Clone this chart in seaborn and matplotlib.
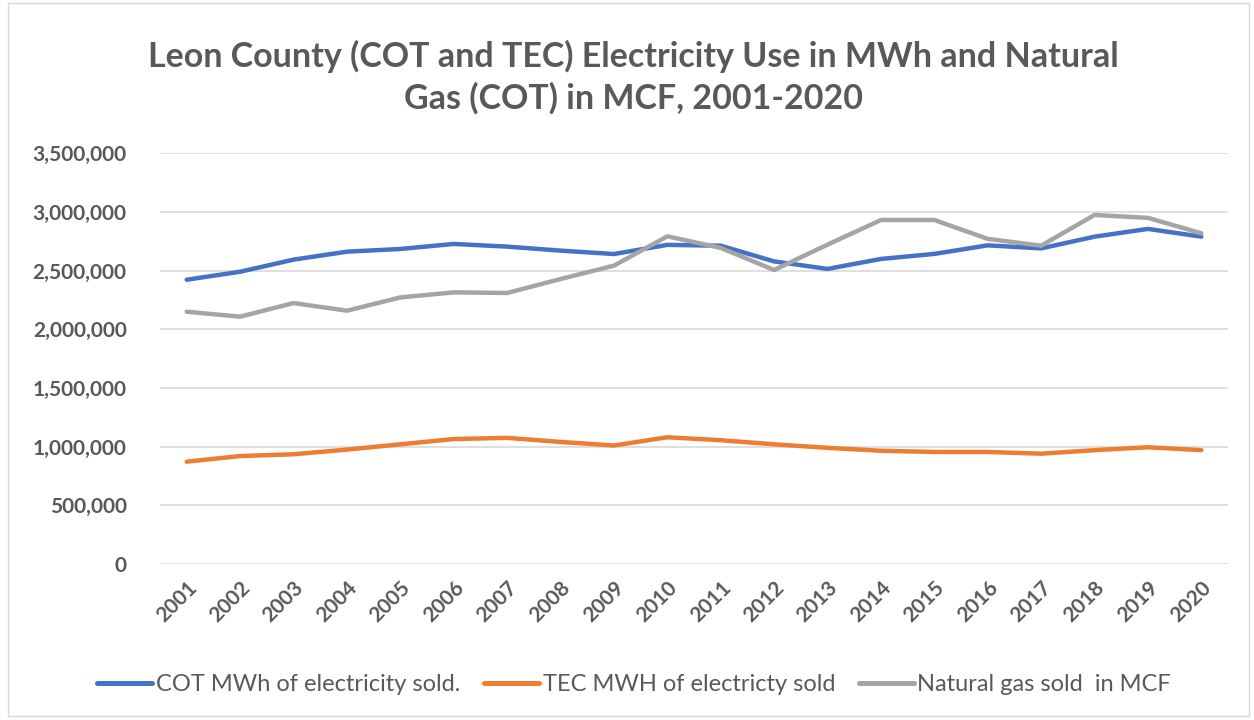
import pandas as pd
import matplotlib.pyplot as plt
import seaborn as sns
from matplotlib.patches import Rectangle
from matplotlib.ticker import FuncFormatter

# data
years = [str(y) for y in range(2001, 2021)]
cot_mwh = [2423000, 2491000, 2594000, 2662000, 2685000, 2728000, 2705000, 2671000,
           2642000, 2720000, 2713000, 2579000, 2515000, 2600000, 2643000, 2716000,
           2690000, 2790000, 2856000, 2790000]
tec_mwh = [872000, 920000, 935000, 975000, 1020000, 1065000, 1075000, 1040000,
           1010000, 1080000, 1055000, 1020000, 990000, 965000, 955000, 955000,
           940000, 970000, 995000, 970000]
gas_mcf = [2150000, 2108000, 2224000, 2159000, 2272000, 2315000, 2310000, 2429000,
           2543000, 2793000, 2694000, 2506000, 2722000, 2932000, 2932000, 2771000,
           2713000, 2975000, 2950000, 2819000]
series_names = ['COT MWh of electricity sold.', 'TEC MWH of electricty sold',
                'Natural gas sold  in MCF']

df = pd.DataFrame({'Year': years * 3,
                   'Value': cot_mwh + tec_mwh + gas_mcf,
                   'Series': [n for n in series_names for _ in years]})

sns.set_style('white')
plt.rcParams['font.family'] = ['Lato', 'DejaVu Sans']
text_color = '#595959'
palette = dict(zip(series_names, ['#4472C4', '#ED7D31', '#A5A5A5']))

fig = plt.figure(figsize=(12.54, 7.2), dpi=100)
ax = fig.add_axes([0.1276, 0.2167, 0.8517, 0.5703])

sns.lineplot(data=df, x='Year', y='Value', hue='Series', palette=palette,
             linewidth=3.2, ax=ax, sort=False)

ax.set_xlim(-0.5, 19.5)
ax.set_ylim(0, 3500000)
ax.set_yticks(range(0, 3500001, 500000))
ax.yaxis.set_major_formatter(FuncFormatter(lambda v, p: f'{int(v):,}'))
ax.grid(axis='y', color='#D9D9D9', linewidth=1.2)
ax.set_axisbelow(True)
for s in ax.spines.values():
    s.set_visible(False)
ax.tick_params(axis='both', length=0, colors=text_color, labelsize=15)
ax.tick_params(axis='y', pad=24)
for lab in ax.get_yticklabels():
    lab.set_fontweight('bold')
plt.setp(ax.get_xticklabels(), rotation=45, ha='right', rotation_mode='anchor',
         fontweight='bold')
ax.tick_params(axis='x', pad=10)
ax.set_xlabel('')
ax.set_ylabel('')

fig.suptitle('Leon County (COT and TEC) Electricity Use in MWh and Natural\nGas (COT) in MCF, 2001-2020',
             x=0.505, y=0.945, fontsize=24.5, fontweight='bold', color=text_color,
             linespacing=1.35)

leg = ax.legend(loc='center', bbox_to_anchor=(0.444, -0.293), ncol=3, frameon=False,
                fontsize=17, handlelength=2.33, handletextpad=0.15, columnspacing=1.0)
for t in leg.get_texts():
    t.set_color(text_color)
for h in leg.get_lines():
    h.set_linewidth(3.6)
    h.set_solid_capstyle('round')

fig.patches.append(Rectangle((0.006, 0.006), 0.99, 0.99, transform=fig.transFigure,
                             fill=False, edgecolor='#D9D9D9', linewidth=1))

fig.savefig('out.png', dpi=100)
